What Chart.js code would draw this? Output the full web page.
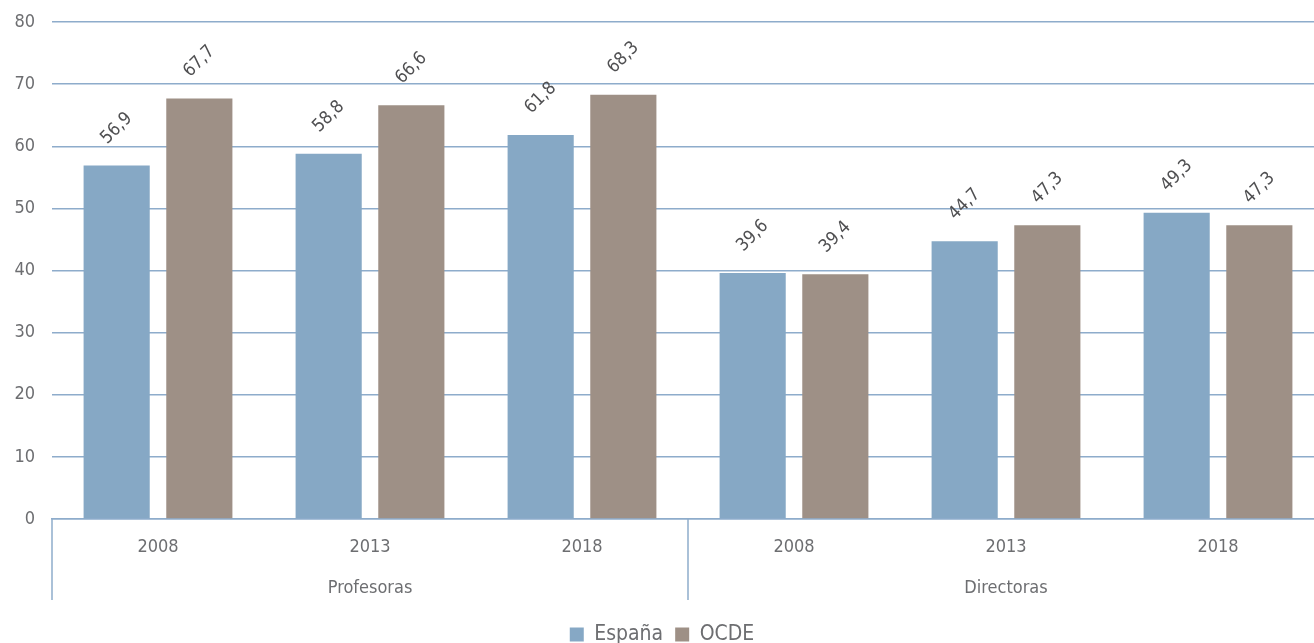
<!DOCTYPE html>
<html>
<head>
    <meta charset="UTF-8">
    <title>España vs OCDE</title>
    <script src="https://cdn.jsdelivr.net/npm/chart.js"></script>
    <style>
        body { margin: 0; overflow: hidden; background: #fff; }
        #wrap { width: 1324px; height: 643px; }
    </style>
</head>
<body>
<div id="wrap"><canvas id="chart" width="1324" height="643"></canvas></div>
<script>
    // datos
    const years = ['2008', '2013', '2018', '2008', '2013', '2018'];
    const groups = ['Profesoras', 'Directoras'];
    const espana = [56.9, 58.8, 61.8, 39.6, 44.7, 49.3];
    const ocde = [67.7, 66.6, 68.3, 39.4, 47.3, 47.3];
    const yTicks = [0, 10, 20, 30, 40, 50, 60, 70, 80];

    const FONT = "'Liberation Sans Narrow', 'DejaVu Sans Condensed', 'Roboto', sans-serif";
    const LINE = '#8eaccb';
    const TXT = '#6d6e71';

    // etiquetas de valor giradas
    const valueLabels = {
        id: 'valueLabels',
        afterDatasetsDraw(chart) {
            const ctx = chart.ctx;
            ctx.save();
            ctx.fillStyle = '#505052';
            ctx.font = '18px ' + FONT;
            ctx.textAlign = 'center';
            ctx.textBaseline = 'middle';
            chart.data.datasets.forEach((ds, i) => {
                chart.getDatasetMeta(i).data.forEach((bar, j) => {
                    ctx.save();
                    ctx.translate(bar.x, bar.y - 37);
                    ctx.rotate(-Math.PI / 4);
                    ctx.fillText(ds.data[j].toFixed(1).replace('.', ','), 0, 0);
                    ctx.restore();
                });
            });
            ctx.restore();
        }
    };

    // segundo nivel del eje x
    const groupAxis = {
        id: 'groupAxis',
        afterDraw(chart) {
            const ctx = chart.ctx;
            const x = chart.scales.x;
            const top = chart.chartArea.bottom;
            const w = x.getPixelForValue(1) - x.getPixelForValue(0);
            const start = x.getPixelForValue(0) - w / 2;
            ctx.save();
            ctx.strokeStyle = LINE;
            ctx.lineWidth = 1.5;
            for (let g = 0; g <= groups.length; g++) {
                const px = start + g * 3 * w;
                ctx.beginPath();
                ctx.moveTo(px, top);
                ctx.lineTo(px, top + 81);
                ctx.stroke();
            }
            ctx.fillStyle = TXT;
            ctx.font = '18px ' + FONT;
            ctx.textAlign = 'center';
            ctx.textBaseline = 'middle';
            groups.forEach((name, g) => {
                const cx = start + (g * 3 + 1.5) * w;
                ctx.fillText(name, cx, top + 69);
            });
            ctx.restore();
        }
    };

    new Chart(document.getElementById('chart'), {
        type: 'bar',
        data: {
            labels: years,
            datasets: [
                {
                    label: 'España',
                    data: espana,
                    backgroundColor: '#86a8c5',
                    categoryPercentage: 0.78,
                    barPercentage: 0.8
                },
                {
                    label: 'OCDE',
                    data: ocde,
                    backgroundColor: '#9e9086',
                    categoryPercentage: 0.78,
                    barPercentage: 0.8
                }
            ]
        },
        options: {
            responsive: false,
            animation: false,
            layout: { padding: { top: 22, right: 0, left: 0, bottom: -12 } },
            plugins: {
                tooltip: { enabled: false },
                legend: {
                    position: 'bottom',
                    labels: {
                        boxWidth: 14,
                        boxHeight: 14,
                        padding: 12,
                        color: TXT,
                        font: { family: FONT, size: 21 }
                    }
                }
            },
            scales: {
                x: {
                    grid: { display: false, drawTicks: false },
                    border: { display: true, color: LINE, width: 1.5 },
                    ticks: {
                        color: TXT,
                        padding: 18,
                        maxRotation: 0,
                        font: { family: FONT, size: 18 }
                    },
                    afterFit(scale) { scale.height = 93; }
                },
                y: {
                    min: 0,
                    max: 80,
                    afterBuildTicks(scale) { scale.ticks = yTicks.map(v => ({ value: v })); },
                    grid: { color: LINE, lineWidth: 1.5, drawTicks: false },
                    border: { display: false },
                    ticks: {
                        color: TXT,
                        padding: 17,
                        font: { family: FONT, size: 18 }
                    },
                    afterFit(scale) {
                        scale.width = 52;
                        scale.paddingTop = 0;
                        scale.paddingBottom = 0;
                    }
                }
            }
        },
        plugins: [valueLabels, groupAxis]
    });
</script>
</body>
</html>
